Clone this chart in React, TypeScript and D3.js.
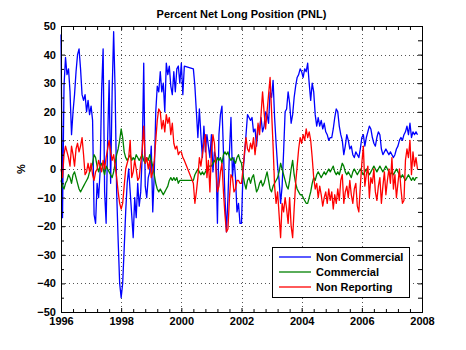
import React, { useRef, useEffect } from 'react';
import * as d3 from 'd3';

// values every 1/20 year from 1996.00, null = no reports (gap drawn straight across)
const startYear = 1996;
const stepsPerYear = 20;

const nonCommercial: (number | null)[] = [
    47, -17, 29, 39, 33, 35, 27, 12, 20, 26, 34, 40, 42, 35, 26, 24, 26, 20, 24, 19, // 1996
    22, 17, -16, -19, -5, -10, -1, 27, 42, -8, -19, 10, 31, -5, 27, 48, 27, -8, -25, -40, // 1997
    -45, -40, -28, -15, -5, 0, -8, -16, -24, -10, -17, -5, -13, -8, 5, 37, -6, -10, -3, -1, // 1998
    8, -15, -2, 20, 29, 27, 34, 27, 30, 20, 37, 33, 36, 29, 26, 34, 27, 35, 36, 30, // 1999
    37, 26, 36, null, null, null, null, null, 35, 29, 20, 11, 21, 12, 4, 15, 6, 12, 8, 4, // 2000
    12, -1, 6, 4, -19, 12, 19, 22, 6, -10, -22, -10, 6, 18, -3, 4, -3, -15, -12, -19, // 2001
    -19, -1, 5, 12, 19, 18, 17, 18, 13, 14, 8, 14, 14, 18, 13, 15, 20, 19, 16, 27, // 2002
    25, 31, 18, 9, 1, -4, -12, -6, 6, 20, 21, 27, 23, 16, 19, 25, 29, 32, 33, 35, // 2003
    34, 32, 35, 34, 37, 30, 24, 30, 27, 19, 15, 18, 15, 17, 14, 16, 13, 12, 10, 11, // 2004
    11, 14, 18, 21, 20, 15, 12, 10, 5, 8, 12, 10, 7, 8, 5, 4, 6, 5, 4, 7, // 2005
    11, 12, 8, 11, 13, 15, 14, 11, 9, 8, 11, 13, 12, 7, 5, 6, 7, 6, 5, 6, // 2006
    5, 4, 5, 7, 8, 10, 11, 10, 12, 13, 15, 12, 16, 11, 13, 12, 13, 12 // 2007
];

const commercial: (number | null)[] = [
    -4, -6, -7, -5, -4, -2, -3, -5, -2, -1, -3, -5, -7, -8, -7, -6, -5, -4, -3, -1,
    0, 2, 5, 4, 1, -1, 1, 2, 0, -2, 1, 0, -1, -2, -3, -1, 2, 5, 7, 10,
    14, 11, 6, 4, 3, 4, 5, 3, 4, 3, 5, 4, 3, 4, 5, 3, 2, 4, 3, 5,
    3, 1, -2, -5, -7, -8, -7, -8, -9, -8, -7, -6, -4, -3, -4, -3, -4, -3, -5, -4,
    -4, -4, -4, null, null, null, null, null, -4, -2, -1, 0, -1, -2, -1, -2, -1, 0, 1, 1,
    1, 2, 3, 2, 4, 3, 4, 2, 5, 6, 5, 6, 4, 3, 4, 3, 2, 4, 5, 3,
    2, -2, -5, -7, -4, -3, -5, -3, -2, -5, -8, -7, -5, -4, -6, -5, -3, -1, -4, -7,
    -8, -6, -5, -4, -3, -1, 2, 0, -2, -4, -6, -7, -4, 0, 3, -2, -5, -7, -8, -9,
    -9, -10, -11, -12, -12, -10, -8, -5, -3, -4, -2, -1, -2, -3, -2, -1, -2, -1, 0, -1,
    0, 1, -1, -2, -1, -2, 0, 2, 1, -1, -2, -1, -2, -3, -1, 0, -1, -2, -1, 0,
    -1, -2, -1, 0, -1, -2, -1, 0, 1, 0, -1, 0, 1, 0, -1, 0, 1, 0, -1, -2,
    -1, -2, -1, 0, -1, -2, -3, -2, -3, -4, -3, -2, -3, -4, -3, -4, -3, -3
];

const nonReporting: (number | null)[] = [
    0, -3, 5, 8, 6, 4, 1, 8, 5, 1, 7, 9, 6, 8, 11, 5, -2, -1, 2, -1,
    2, -2, -4, -1, 0, 3, 1, -1, 3, 0, 4, 7, 10, 6, 3, 5, 1, -3, -8, -12,
    -14, -12, -6, 0, 2, 4, 10, -3, -1, 3, 0, -4, -3, 2, 7, 15, 2, 4, 0, 3,
    -3, -1, 3, 10, 17, 21, 20, 14, 17, 13, 19, 16, 18, 12, 16, 9, 7, 8, 5, 6,
    6, 4, 3, null, null, null, null, null, -5, -12, -8, -3, 4, 1, 5, 9, 12, -3, 3, -8,
    6, 12, 9, 0, -8, -6, -1, 2, -8, -16, -22, -21, -10, -2, -3, -8, -7, -4, -4, -5,
    -5, 0, 6, 11, 7, 6, 9, 7, 11, 5, 10, 16, 12, 19, 27, 20, 14, 20, 26, 32,
    20, 8, -6, -12, -8, -16, -24, -12, -15, -10, -14, -19, -10, -20, -24, -14, -5, 1, 7, 11,
    9, 12, 10, 14, 11, 13, 10, 4, -3, -7, -5, -10, -6, -9, -13, -10, -8, -12, -7, -11,
    -8, -14, -9, -12, -7, -11, -4, -2, -12, -8, -6, -10, -4, -9, -12, -7, -5, -13, -15, -6,
    2, 8, -6, -2, 1, -10, -3, -5, 0, -8, -11, -6, -3, -12, -6, -1, -9, -4, 0, -5,
    4, -7, -2, -10, -5, 0, -7, -12, -11, 3, 7, 4, 10, -2, 6, 1, 4, 0
];

const seriesNames = ['Non Commercial', 'Commercial', 'Non Reporting'];
const seriesColors = ['#0000ff', '#008000', '#ff0000'];
const xTicks = [1996, 1998, 2000, 2002, 2004, 2006, 2008];
const yTicks = [-50, -40, -30, -20, -10, 0, 10, 20, 30, 40, 50];

const FONT = '"Liberation Sans", Arial, Helvetica, sans-serif';

const App = () => {
    const svgRef = useRef<SVGSVGElement>(null);

    useEffect(() => {
        const svg = d3.select(svgRef.current);
        svg.selectAll('*').remove();

        const width = 466;
        const height = 350;
        const margin = { top: 26, right: 44, bottom: 38, left: 61 };

        const x = d3.scaleLinear().domain([1996, 2008]).range([margin.left, width - margin.right]);
        const y = d3.scaleLinear().domain([-50, 50]).range([height - margin.bottom, margin.top]);

        svg.append('rect').attr('width', width).attr('height', height).attr('fill', '#fff');

        // dotted grid
        const grid = svg.append('g')
            .attr('stroke', '#555')
            .attr('stroke-width', 1)
            .attr('stroke-dasharray', '1,3');
        grid.selectAll('line.gx')
            .data(xTicks.slice(1, -1))
            .enter().append('line')
            .attr('x1', d => Math.round(x(d)) + 0.5).attr('x2', d => Math.round(x(d)) + 0.5)
            .attr('y1', y(50)).attr('y2', y(-50));
        grid.selectAll('line.gy')
            .data(yTicks.slice(1, -1))
            .enter().append('line')
            .attr('y1', d => Math.round(y(d)) + 0.5).attr('y2', d => Math.round(y(d)) + 0.5)
            .attr('x1', x(1996)).attr('x2', x(2008));

        // series
        const allSeries = [nonCommercial, commercial, nonReporting];
        const line = d3.line<{ t: number; v: number }>()
            .x(d => x(d.t))
            .y(d => y(d.v));
        allSeries.forEach((values, i) => {
            const pts = values
                .map((v, k) => ({ t: startYear + k / stepsPerYear, v: v as number }))
                .filter(d => values[Math.round((d.t - startYear) * stepsPerYear)] !== null);
            svg.append('path')
                .datum(pts)
                .attr('fill', 'none')
                .attr('stroke', seriesColors[i])
                .attr('stroke-width', 1.3)
                .attr('stroke-linejoin', 'round')
                .attr('d', line);
        });

        // axes: labels bottom/left, inward ticks on all sides
        const minorX = d3.range(1996, 2008.01, 0.4).filter(v => Math.abs(v / 2 - Math.round(v / 2)) > 0.01);
        const minorY = d3.range(-45, 50, 10);

        const styleAxis = (g: any) => {
            g.select('.domain').remove();
            g.selectAll('line').attr('stroke', '#000');
            g.selectAll('text')
                .attr('font-family', FONT)
                .attr('font-size', 11)
                .attr('font-weight', 'bold')
                .attr('fill', '#000');
        };

        svg.append('g')
            .attr('transform', `translate(0,${y(-50)})`)
            .call(d3.axisBottom(x).tickValues(xTicks).tickFormat(d3.format('d')).tickSize(-4).tickPadding(5))
            .call(styleAxis);
        svg.append('g')
            .attr('transform', `translate(0,${y(-50)})`)
            .call(d3.axisBottom(x).tickValues(minorX).tickFormat(() => '').tickSize(-3))
            .call(styleAxis);
        svg.append('g')
            .attr('transform', `translate(0,${y(50)})`)
            .call(d3.axisTop(x).tickValues(xTicks.concat(minorX)).tickFormat(() => '').tickSize(-4))
            .call(styleAxis);

        svg.append('g')
            .attr('transform', `translate(${x(1996)},0)`)
            .call(d3.axisLeft(y).tickValues(yTicks).tickSize(-4).tickPadding(5))
            .call(styleAxis);
        svg.append('g')
            .attr('transform', `translate(${x(1996)},0)`)
            .call(d3.axisLeft(y).tickValues(minorY).tickFormat(() => '').tickSize(-3))
            .call(styleAxis);
        svg.append('g')
            .attr('transform', `translate(${x(2008)},0)`)
            .call(d3.axisRight(y).tickValues(yTicks.concat(minorY)).tickFormat(() => '').tickSize(-4))
            .call(styleAxis);

        // box
        svg.append('rect')
            .attr('x', x(1996) + 0.5)
            .attr('y', y(50) + 0.5)
            .attr('width', x(2008) - x(1996))
            .attr('height', y(-50) - y(50))
            .attr('fill', 'none')
            .attr('stroke', '#000')
            .attr('stroke-width', 1);

        // title and y label
        svg.append('text')
            .attr('x', (x(1996) + x(2008)) / 2)
            .attr('y', 18)
            .attr('text-anchor', 'middle')
            .attr('font-family', FONT)
            .attr('font-size', 11)
            .attr('font-weight', 'bold')
            .text('Percent Net Long Position (PNL)');

        svg.append('text')
            .attr('transform', `translate(25,${y(0)}) rotate(-90)`)
            .attr('text-anchor', 'middle')
            .attr('font-family', FONT)
            .attr('font-size', 11)
            .attr('font-weight', 'bold')
            .text('%');

        // legend
        const legend = svg.append('g').attr('transform', 'translate(272,247)');
        legend.append('rect')
            .attr('x', 0.5).attr('y', 0.5)
            .attr('width', 137).attr('height', 50)
            .attr('fill', '#fff')
            .attr('stroke', '#000');
        seriesNames.forEach((name, i) => {
            const ly = 10 + i * 15;
            legend.append('line')
                .attr('x1', 7).attr('x2', 39)
                .attr('y1', ly).attr('y2', ly)
                .attr('stroke', seriesColors[i])
                .attr('stroke-width', 1.3);
            legend.append('text')
                .attr('x', 44)
                .attr('y', ly)
                .attr('dy', '0.35em')
                .attr('font-family', FONT)
                .attr('font-size', 11)
                .attr('font-weight', 'bold')
                .text(name);
        });
    }, []);

    return (
        <svg ref={svgRef} width={466} height={350}
            style={{ position: 'absolute', left: 0, top: 0, display: 'block' }} />
    );
};

export default App;
